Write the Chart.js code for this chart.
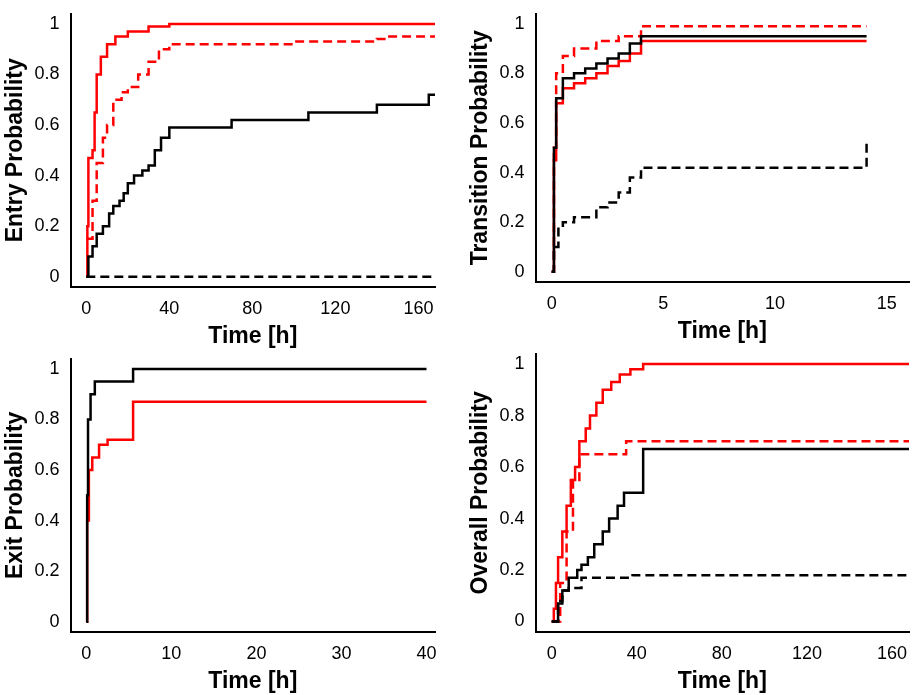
<!DOCTYPE html>
<html lang="en">
  <head>
    <meta charset="UTF-8" />
    <title>Probabilities</title>
    <script src="https://cdn.jsdelivr.net/npm/chart.js@4/dist/chart.umd.min.js"></script>
    <style>
      body { margin: 0; background: #fff; width: 919px; height: 695px; position: relative; overflow: hidden; }
      .box { position: absolute; }
    </style>
  </head>
  <body>
    <div class="box" style="left:0;top:0;width:445px;height:350px"><canvas id="c1"></canvas></div>
    <div class="box" style="left:465px;top:0;width:454px;height:345px"><canvas id="c2"></canvas></div>
    <div class="box" style="left:0;top:345px;width:445px;height:350px"><canvas id="c3"></canvas></div>
    <div class="box" style="left:465px;top:340px;width:454px;height:355px"><canvas id="c4"></canvas></div>
    <script>
      // [time, probability] pairs
      const entryRedSolid = [[0,0],[0.5,0.2],[1,0.47],[3,0.5],[4,0.65],[5,0.8],[7,0.87],[10,0.92],[14,0.95],[20,0.97],[30,0.99],[40,1],[168,1]];
      const entryRedDash = [[0,0.15],[3,0.3],[5,0.45],[8,0.55],[10,0.6],[13,0.7],[17,0.73],[20,0.75],[25,0.8],[30,0.85],[35,0.9],[40,0.92],[60,0.92],[100,0.93],[140,0.94],[145,0.95],[168,0.95]];
      const entryBlackSolid = [[0,0],[1,0.08],[3,0.12],[5,0.17],[8,0.2],[11,0.25],[13,0.28],[16,0.3],[18,0.33],[20,0.37],[23,0.4],[27,0.42],[30,0.44],[33,0.5],[36,0.55],[40,0.59],[70,0.62],[107,0.65],[140,0.68],[165,0.72],[168,0.72]];
      const entryBlackDash = [[0,0],[168,0]];

      const transRedDash = [[0,0],[0.1,0.5],[0.2,0.8],[0.5,0.87],[1,0.9],[2,0.93],[3,0.95],[4,0.99],[14.1,0.99]];
      const transBlackSolid = [[0,0],[0.1,0.5],[0.2,0.7],[0.5,0.78],[1,0.8],[1.5,0.82],[2,0.84],[2.5,0.86],[3,0.88],[3.5,0.92],[4,0.95],[14.1,0.95]];
      const transRedSolid = [[0,0],[0.1,0.45],[0.2,0.68],[0.5,0.74],[1,0.76],[1.5,0.78],[2,0.8],[2.5,0.83],[3,0.85],[3.5,0.88],[4,0.93],[14.1,0.93]];
      const transBlackDash = [[0,0],[0.1,0.1],[0.3,0.18],[0.5,0.2],[1,0.22],[2,0.26],[2.5,0.28],[3,0.32],[3.5,0.38],[4,0.42],[14,0.42],[14.1,0.52]];

      const exitBlack = [[0,0],[0.1,0.5],[0.2,0.8],[0.5,0.9],[1,0.95],[5.5,1],[40,1]];
      const exitRed = [[0,0],[0.1,0.4],[0.3,0.6],[0.7,0.65],[1.5,0.7],[2.5,0.72],[5.5,0.87],[40,0.87]];

      const overRedSolid = [[0,0],[1,0.05],[2,0.15],[3,0.25],[5,0.35],[7,0.45],[9,0.55],[11,0.6],[13,0.7],[16,0.75],[18,0.8],[21,0.85],[24,0.9],[28,0.93],[32,0.96],[37,0.98],[43,1],[168,1]];
      const overRedDash = [[0,0],[4,0.15],[7,0.35],[10,0.55],[13,0.65],[35,0.7],[168,0.7]];
      const overBlackSolid = [[0,0],[3,0.07],[5,0.12],[8,0.17],[12,0.2],[14,0.22],[17,0.25],[20,0.3],[24,0.35],[27,0.4],[31,0.45],[34,0.5],[40,0.5],[43,0.67],[168,0.67]];
      const overBlackDash = [[0,0],[3,0.08],[5,0.12],[8,0.13],[14,0.17],[38,0.18],[168,0.18]];

      const probTicks = [0, 0.2, 0.4, 0.6, 0.8, 1];

      function line(pts, color, dashed) {
        return {
          data: pts.map(p => ({ x: p[0], y: p[1] })),
          borderColor: color,
          borderWidth: 2.5,
          borderDash: dashed ? [9, 5] : [],
          pointRadius: 0,
          stepped: true,
          fill: false
        };
      }

      function makeChart(id, yTitle, xMax, xStep, sets) {
        new Chart(document.getElementById(id), {
          type: 'line',
          data: { datasets: sets },
          options: {
            animation: false,
            responsive: true,
            maintainAspectRatio: false,
            plugins: { legend: { display: false }, tooltip: { enabled: false } },
            layout: { padding: { top: 10, right: 10 } },
            scales: {
              x: {
                type: 'linear', min: -xMax * 0.045, max: xMax,
                afterBuildTicks: ax => {
                  const t = [];
                  for (let v = 0; v <= xMax; v += xStep) t.push({ value: v });
                  ax.ticks = t;
                },
                grid: { display: false },
                border: { color: '#000', width: 2 },
                ticks: { color: '#000', font: { size: 18, family: 'Liberation Sans' } },
                title: { display: true, text: 'Time [h]', color: '#000', padding: 0, font: { size: 23, weight: 'bold', family: 'Liberation Sans' } }
              },
              y: {
                min: -0.04, max: 1.04,
                afterBuildTicks: ax => { ax.ticks = probTicks.map(v => ({ value: v })); },
                grid: { display: false },
                border: { color: '#000', width: 2 },
                ticks: { color: '#000', font: { size: 18, family: 'Liberation Sans' }, callback: v => String(v) },
                title: { display: true, text: yTitle, color: '#000', padding: 2, font: { size: 23, weight: 'bold', family: 'Liberation Sans' } }
              }
            }
          }
        });
      }

      makeChart('c1', 'Entry Probability', 168, 40, [
        line(entryBlackDash, '#000', true), line(entryBlackSolid, '#000', false),
        line(entryRedDash, '#f00', true), line(entryRedSolid, '#f00', false)
      ]);
      makeChart('c2', 'Transition Probability', 16, 5, [
        line(transBlackDash, '#000', true), line(transBlackSolid, '#000', false),
        line(transRedSolid, '#f00', false), line(transRedDash, '#f00', true)
      ]);
      makeChart('c3', 'Exit Probability', 41, 10, [
        line(exitBlack, '#000', false), line(exitRed, '#f00', false)
      ]);
      makeChart('c4', 'Overall Probability', 168, 40, [
        line(overBlackDash, '#000', true), line(overBlackSolid, '#000', false),
        line(overRedDash, '#f00', true), line(overRedSolid, '#f00', false)
      ]);
    </script>
  </body>
</html>
